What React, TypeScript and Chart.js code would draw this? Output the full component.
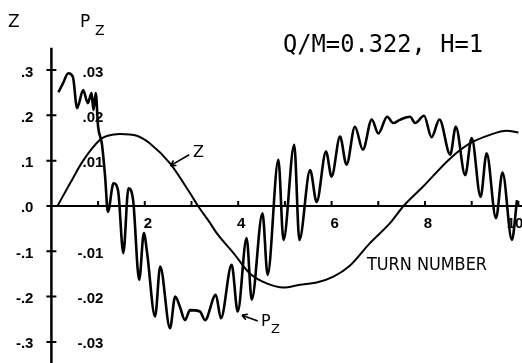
import React, { useEffect, useRef } from "react";
import { Chart, registerables } from "chart.js";

Chart.register(...registerables);

// ---- data ----
const zTurns = [0.13, 0.4, 0.68, 1.04, 1.15, 1.3, 1.47, 1.83, 2.11, 2.54, 2.97, 3.14, 3.4, 3.54, 3.9, 4.25, 4.61, 4.97, 5.32, 5.68, 6.04, 6.39, 6.82, 7.25, 7.54, 7.96, 8.54, 8.96, 9.39, 9.75, 10.0];
const zValues = [0, 0.05, 0.1, 0.146, 0.153, 0.157, 0.159, 0.155, 0.138, 0.094, 0.028, 0, -0.038, -0.06, -0.104, -0.149, -0.171, -0.18, -0.174, -0.169, -0.156, -0.132, -0.082, -0.038, 0, 0.043, 0.105, 0.138, 0.157, 0.166, 0.162];

const pzTurns = [0.15, 0.25, 0.36, 0.46, 0.55, 0.68, 0.78, 0.86, 0.9, 0.95, 1.0, 1.08, 1.15, 1.21, 1.33, 1.43, 1.54, 1.65, 1.75, 1.88, 1.98, 2.05, 2.22, 2.33, 2.54, 2.65, 2.75, 2.86, 2.97, 3.18, 3.29, 3.52, 3.63, 3.86, 3.99, 4.18, 4.29, 4.52, 4.63, 4.86, 4.97, 5.2, 5.31, 5.54, 5.68, 5.88, 6.0, 6.18, 6.32, 6.5, 6.67, 6.86, 7.0, 7.19, 7.32, 7.46, 7.68, 7.79, 7.98, 8.14, 8.31, 8.54, 8.66, 8.86, 9.0, 9.19, 9.32, 9.52, 9.66, 9.86, 9.97];
const pzValues = [0.0251, 0.0271, 0.0293, 0.0285, 0.0216, 0.0256, 0.0227, 0.0249, 0.0212, 0.0249, 0.0175, 0.0138, 0.0065, -0.0013, 0.005, 0.0032, -0.0104, 0.0039, 0.0013, -0.0163, -0.006, -0.0104, -0.0244, -0.0134, -0.027, -0.02, -0.0222, -0.0252, -0.023, -0.0233, -0.0252, -0.0196, -0.0248, -0.013, -0.0233, -0.0071, -0.0207, -0.0016, -0.0152, 0.0102, -0.0075, 0.0135, -0.0075, 0.0079, 0.0009, 0.012, 0.0065, 0.0153, 0.0091, 0.0175, 0.0124, 0.0191, 0.016, 0.0197, 0.0183, 0.019, 0.0197, 0.0183, 0.0199, 0.0152, 0.0191, 0.0113, 0.0175, 0.0068, 0.015, 0.002, 0.0116, -0.0027, 0.0074, -0.0075, 0.0013];

const zTickValues = [0.3, 0.2, 0.1, 0, -0.1, -0.2, -0.3];
const zTickLabels = [".3", ".2", ".1", ".0", "-.1", "-.2", "-.3"];
const pzTickValues = [0.03, 0.02, 0.01, -0.01, -0.02, -0.03];
const pzTickLabels = [".03", ".02", ".01", "-.01", "-.02", "-.03"];
const xTickValues = [1, 2, 3, 4, 5, 6, 7, 8, 9, 10];
const xLabelValues = [2, 4, 6, 8, 10];
const xLabelTexts = ["2", "4", "6", "8", "10"];

const titleText = "Q/M=0.322, H=1";
const xAxisTitle = "TURN NUMBER";
const zAxisTitle = "Z";
const pzAxisTitle = "P";
const subscript = "Z";

const W = 522;
const H = 363;

function arrow(ctx: CanvasRenderingContext2D, x1: number, y1: number, x2: number, y2: number) {
  ctx.beginPath();
  ctx.moveTo(x1, y1);
  ctx.lineTo(x2, y2);
  const a = Math.atan2(y2 - y1, x2 - x1);
  const L = 6;
  ctx.moveTo(x2, y2);
  ctx.lineTo(x2 - L * Math.cos(a - 0.5), y2 - L * Math.sin(a - 0.5));
  ctx.moveTo(x2, y2);
  ctx.lineTo(x2 - L * Math.cos(a + 0.5), y2 - L * Math.sin(a + 0.5));
  ctx.stroke();
}

const axesPlugin = {
  id: "plotAxes",
  beforeDatasetsDraw(chart: any) {
    const { ctx } = chart;
    const xs = chart.scales.x;
    const ys = chart.scales.y;
    const y1s = chart.scales.y1;
    const x0 = xs.getPixelForValue(0);
    const yz = ys.getPixelForValue(0);
    ctx.save();
    ctx.strokeStyle = "#000";
    ctx.fillStyle = "#000";
    ctx.lineCap = "butt";
    // y axis
    ctx.lineWidth = 2.5;
    ctx.beginPath();
    ctx.moveTo(x0, ys.getPixelForValue(0.349));
    ctx.lineTo(x0, H);
    ctx.stroke();
    // y ticks
    ctx.lineWidth = 2;
    ctx.beginPath();
    zTickValues.forEach((v) => {
      const py = ys.getPixelForValue(v);
      ctx.moveTo(x0 - 5, py);
      ctx.lineTo(x0 + 5, py);
    });
    ctx.stroke();
    // x axis
    ctx.beginPath();
    ctx.moveTo(x0 - 3, yz);
    ctx.lineTo(xs.getPixelForValue(10.1), yz);
    ctx.stroke();
    ctx.beginPath();
    xTickValues.forEach((v) => {
      const px = xs.getPixelForValue(v);
      ctx.moveTo(px, yz);
      ctx.lineTo(px, yz - 5);
    });
    ctx.stroke();
    // tick labels
    ctx.font = "bold 15px 'Liberation Sans', Arial, sans-serif";
    ctx.textBaseline = "alphabetic";
    ctx.textAlign = "right";
    zTickValues.forEach((v, i) => {
      ctx.fillText(zTickLabels[i], x0 - 18, ys.getPixelForValue(v) + 6.5);
    });
    pzTickValues.forEach((v, i) => {
      ctx.fillText(pzTickLabels[i], x0 + 52, y1s.getPixelForValue(v) + 6.5);
    });
    ctx.textAlign = "center";
    xLabelValues.forEach((v, i) => {
      const cx = Math.min(xs.getPixelForValue(v) + 3, W - 7);
      ctx.fillText(xLabelTexts[i], cx, yz + 22);
    });
    ctx.restore();
  },
  afterDatasetsDraw(chart: any) {
    const { ctx } = chart;
    const xs = chart.scales.x;
    const ys = chart.scales.y;
    ctx.save();
    ctx.fillStyle = "#000";
    ctx.strokeStyle = "#000";
    ctx.textBaseline = "alphabetic";
    ctx.textAlign = "left";
    // title
    ctx.font = "24px 'DejaVu Sans Mono', monospace";
    ctx.fillText(titleText, 283, 52, 200);
    // axis names
    ctx.font = "17px 'DejaVu Sans', sans-serif";
    ctx.fillText(zAxisTitle, 8, 27);
    ctx.fillText(pzAxisTitle, 80, 27);
    ctx.font = "14px 'DejaVu Sans', sans-serif";
    ctx.fillText(subscript, 95, 35);
    // x axis title
    ctx.font = "18px 'DejaVu Sans', sans-serif";
    ctx.fillText(xAxisTitle, 367, 270, 120);
    // Z annotation
    ctx.font = "16px 'DejaVu Sans', sans-serif";
    ctx.fillText("Z", xs.getPixelForValue(3.03), ys.getPixelForValue(0.108));
    ctx.lineWidth = 1.6;
    arrow(ctx, xs.getPixelForValue(2.95), ys.getPixelForValue(0.113), xs.getPixelForValue(2.55), ys.getPixelForValue(0.089));
    // Pz annotation
    arrow(ctx, xs.getPixelForValue(4.42), ys.getPixelForValue(-0.254), xs.getPixelForValue(4.08), ys.getPixelForValue(-0.241));
    ctx.font = "16px 'DejaVu Sans', sans-serif";
    ctx.fillText("P", xs.getPixelForValue(4.49), ys.getPixelForValue(-0.265));
    ctx.font = "13px 'DejaVu Sans', sans-serif";
    ctx.fillText("Z", xs.getPixelForValue(4.7), ys.getPixelForValue(-0.28));
    ctx.restore();
  },
};

export default function App() {
  const ref = useRef<HTMLCanvasElement | null>(null);
  useEffect(() => {
    if (!ref.current) return;
    const chart = new Chart(ref.current, {
      type: "line",
      data: {
        datasets: [
          {
            label: "Z",
            data: zTurns.map((t, i) => ({ x: t, y: zValues[i] })),
            yAxisID: "y",
            borderColor: "#000",
            borderWidth: 2,
            pointRadius: 0,
            cubicInterpolationMode: "monotone",
            fill: false,
            clip: false,
          },
          {
            label: "Pz",
            data: pzTurns.map((t, i) => ({ x: t, y: pzValues[i] })),
            yAxisID: "y1",
            borderColor: "#000",
            borderWidth: 2.6,
            pointRadius: 0,
            cubicInterpolationMode: "monotone",
            fill: false,
            clip: false,
          },
        ],
      },
      options: {
        animation: false,
        responsive: false,
        devicePixelRatio: 1,
        layout: { padding: { left: 51.4, right: 3.6, top: 47.4, bottom: 3 } },
        plugins: { legend: { display: false }, tooltip: { enabled: false }, title: { display: false } },
        scales: {
          x: { type: "linear", min: 0, max: 10, display: false },
          y: { type: "linear", min: -0.34, max: 0.35, display: false },
          y1: { type: "linear", min: -0.034, max: 0.035, display: false },
        },
      },
      plugins: [axesPlugin],
    } as any);
    return () => chart.destroy();
  }, []);
  return (
    <div style={{ position: "fixed", left: 0, top: 0, width: W, height: H, background: "#fff" }}>
      <canvas ref={ref} width={W} height={H} style={{ display: "block" }} />
    </div>
  );
}
